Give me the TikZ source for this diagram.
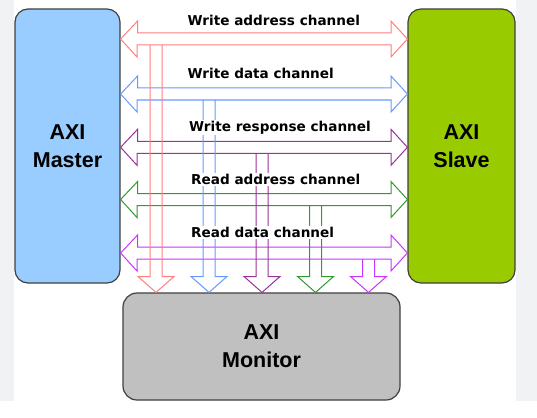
\documentclass[tikz,border=0pt]{standalone}
\usepackage{fontspec}
\setmainfont{Liberation Sans}
\newfontfamily\lblfont{DejaVu Sans}
\definecolor{bgstrip}{HTML}{F1F2F4}
\definecolor{masterfill}{HTML}{99CCFF}
\definecolor{slavefill}{HTML}{99CC00}
\definecolor{monfill}{HTML}{C0C0C0}
\definecolor{boxline}{HTML}{404040}
\definecolor{cwa}{HTML}{FF7F7F}
\definecolor{cwd}{HTML}{6699FF}
\definecolor{cwr}{HTML}{993399}
\definecolor{cra}{HTML}{339933}
\definecolor{crd}{HTML}{CC33FF}
\tikzset{
  block/.style={draw=boxline, line width=1.2pt, rounded corners=13pt, inner sep=0pt,
    align=center, font=\fontsize{21.5}{28.4}\selectfont\bfseries},
  chanlabel/.style={fill=white, inner sep=1pt, anchor=base west,
    font=\lblfont\fontsize{13.6}{16}\selectfont\bfseries},
  hollow/.style={line width=1pt, line join=miter},
}
% horizontal double arrow: #1 = centre y, #2 = colour
\newcommand\hdarrow[2]{%
  \draw[hollow, #2] (master.east |- 0,#1) -- ++(17,-18) -- ++(0,12) -- (391,#1-6)
    -- (391,#1-18) -- (slave.west |- 0,#1) -- (391,#1+18) -- (391,#1+6)
    -- (137,#1+6) -- (137,#1+18) -- cycle;}
% vertical hollow arrow: #1 = centre x, #2 = start y, #3 = colour
\newcommand\vdarrow[3]{%
  \draw[hollow, #3] (#1-6,#2) -- (#1-6,276.5) -- (#1-18,276.5) -- (monitor.north -| #1,0)
    -- (#1+18,276.5) -- (#1+6,276.5) -- (#1+6,#2);}
\begin{document}
\begin{tikzpicture}[x=1pt,y=-1pt]
\useasboundingbox (0,0) rectangle (537,417);
\fill[white] (0,0) rectangle (537,417);
\fill[bgstrip] (0,0) rectangle (14,400.5);
\fill[bgstrip] (516,0) rectangle (537,400.5);
% blocks
\node[block, fill=masterfill, minimum width=105pt, minimum height=274pt] (master) at (67.5,146) {AXI\\Master};
\node[block, fill=slavefill, minimum width=107pt, minimum height=274pt] (slave) at (461.5,146) {AXI\\Slave};
\node[block, fill=monfill, minimum width=277pt, minimum height=107pt, rounded corners=14pt] (monitor) at (261.5,346.5) {AXI\\Monitor};
% horizontal channel arrows
\hdarrow{39}{cwa}
\hdarrow{94}{cwd}
\hdarrow{147.3}{cwr}
\hdarrow{199.5}{cra}
\hdarrow{253}{crd}
% vertical arrows to monitor
\vdarrow{156}{45}{cwa}
\vdarrow{209}{100}{cwd}
\vdarrow{262}{153}{cwr}
\vdarrow{315.5}{205.5}{cra}
\vdarrow{368.5}{259}{crd}
% labels
\node[chanlabel] (lwa) at (186.5,25.5) {Write address channel};
\node[chanlabel] (lwd) at (186.5,78.5) {Write data channel};
\node[chanlabel] (lwr) at (188,131.5) {Write response channel};
\node[chanlabel] (lra) at (190,184.5) {Read address channel};
\node[chanlabel] (lrd) at (190,237.5) {Read data channel};
\end{tikzpicture}
\end{document}
